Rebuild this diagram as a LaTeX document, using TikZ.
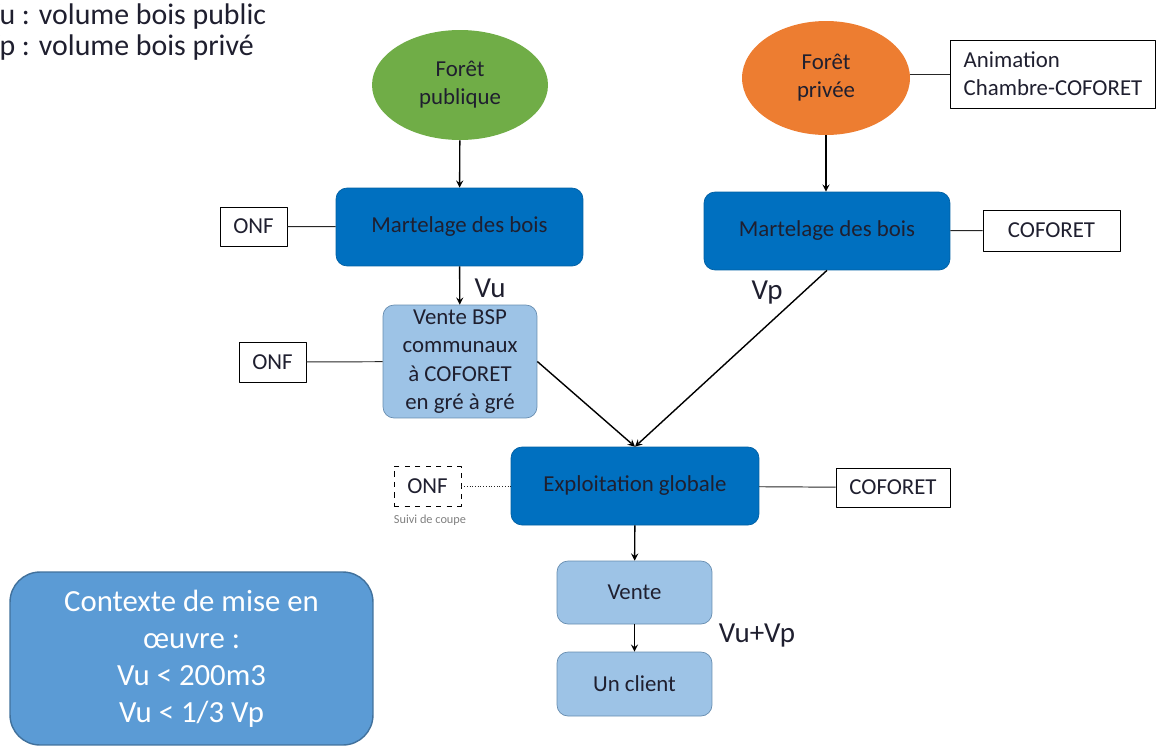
\documentclass[tikz,border=0pt]{standalone}
\usepackage{fontspec}
\setmainfont{Carlito}
\usetikzlibrary{shapes.geometric}
\definecolor{vertforet}{HTML}{70AD47}
\definecolor{orangeforet}{HTML}{ED7D31}
\definecolor{bleufonce}{HTML}{0070C0}
\definecolor{bleuclair}{HTML}{9DC3E6}
\definecolor{bleucontexte}{HTML}{5B9BD5}
\definecolor{bordbleu}{HTML}{41719C}
\definecolor{texte}{HTML}{1F1F2F}
\begin{document}
\begin{tikzpicture}[x=0.02cm,y=-0.02cm,>=stealth, line join=round, font=\fontsize{13}{16}\selectfont, text=texte]
		\tikzset{foret/.style={ellipse, draw=none, align=center},
			etape/.style={rectangle, rounded corners=0.22cm, fill=bleufonce, draw=bleufonce!85!black, align=center},
			etapeclaire/.style={rectangle, rounded corners=0.22cm, fill=bleuclair, draw=bordbleu!80, align=center},
			acteur/.style={rectangle, draw=black, thin, fill=white, align=left},
			legende/.style={anchor=base west, inner sep=0, font=\fontsize{17}{19}\selectfont},
			fleche/.style={->, line width=0.8pt},
			lien/.style={draw=black!85, line width=0.55pt}}
		\useasboundingbox (0,0) rectangle (1158,747);
		\node[legende] (legpub) at (-17,24) {Vu : volume bois public};
		\node[legende] (legpriv) at (-17,55) {Vp : volume bois privé};
		% forets
		\node[foret, fill=vertforet, minimum width=3.52cm, minimum height=2.2cm] (pub) at (460,85) {Forêt\\publique};
		\node[foret, fill=orangeforet, minimum width=3.36cm, minimum height=2.28cm] (priv) at (826,78) {Forêt\\privée};
		\node[acteur, minimum width=4.1cm, minimum height=1.36cm] (anim) at (1053,74) {Animation\\Chambre-COFORET};
		% martelage
		\node[etape, minimum width=4.94cm, minimum height=1.56cm] (mart1) at (459.5,227) {Martelage des bois};
		\node[etape, minimum width=4.92cm, minimum height=1.56cm] (mart2) at (827,231) {Martelage des bois};
		\node[acteur, minimum width=1.34cm, minimum height=0.78cm, align=center] (onf1) at (253.5,226.5) {ONF};
		\node[acteur, minimum width=2.74cm, minimum height=0.82cm] (cof1) at (1051.5,230.5) {COFORET};
		% vente BSP
		\node[etapeclaire, minimum width=3.08cm, minimum height=2.26cm, inner sep=1pt] (bsp) at (460,361.5)
		{Vente BSP\\communaux\\à COFORET\\en gré à gré};
		\node[acteur, minimum width=1.34cm, minimum height=0.8cm, align=center] (onf2) at (272.5,362) {ONF};
		% exploitation
		\node[etape, minimum width=4.96cm, minimum height=1.56cm] (expl) at (635,486) {Exploitation globale};
		\node[acteur, dashed, minimum width=1.34cm, minimum height=0.8cm, align=center] (onf3) at (427.5,486) {ONF};
		\node[font=\fontsize{7}{8}\selectfont, text=black!50] (suivi) at (430,520) {Suivi de coupe};
		\node[acteur, minimum width=2.28cm, minimum height=0.78cm, align=center] (cof2) at (893,487.5) {COFORET};
		% vente
		\node[etapeclaire, minimum width=3.1cm, minimum height=1.26cm] (vente) at (634.5,592.5) {Vente};
		\node[etapeclaire, minimum width=3.1cm, minimum height=1.28cm] (client) at (634.5,684) {Un client};
		% contexte
		\node[rectangle, rounded corners=0.6cm, fill=bleucontexte, draw=bordbleu, line width=0.8pt,
		minimum width=7.26cm, minimum height=3.46cm, align=center, text=white,
		font=\fontsize{17.5}{21}\selectfont] (ctx) at (191.5,658.5)
		{Contexte de mise en\\œuvre :\\Vu < 200m3\\Vu < 1/3 Vp};
		% volumes
		\node[font=\fontsize{16.5}{18}\selectfont] (vu) at (490,288) {Vu};
		\node[font=\fontsize{16.5}{18}\selectfont] (vp) at (767,293) {Vp};
		\node[font=\fontsize{16.5}{18}\selectfont] (vuvp) at (757,636) {Vu+Vp};
		% fleches
		\draw[fleche] (pub) -- (mart1);
		\draw[fleche] (priv) -- (priv |- mart2.north);
		\draw[fleche] (mart1) -- (bsp);
		\draw[fleche] (mart2.south) -- (expl.north);
		\draw[fleche] (bsp.east) -- (expl.north);
		\draw[fleche] (expl) -- (vente);
		\draw[fleche] (vente) -- (client);
		% liens acteurs
		\draw[lien] (onf1) -- (mart1);
		\draw[lien] (onf2) -- (bsp);
		\draw[lien] (mart2) -- (cof1);
		\draw[lien] (expl) -- (cof2);
		\draw[lien, densely dotted] (onf3) -- (expl);
		\draw[lien] (anim.west) -- (anim.west -| priv.east);
\end{tikzpicture}
\end{document}
